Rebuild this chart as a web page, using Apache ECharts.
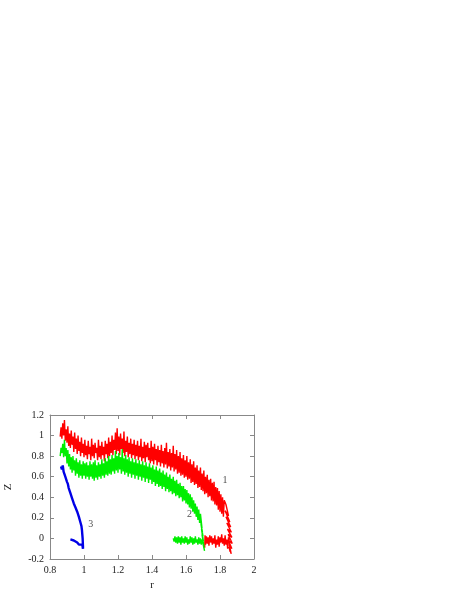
<!DOCTYPE html>
<html>
<head>
<meta charset="utf-8">
<script src="https://cdn.jsdelivr.net/npm/echarts@6/dist/echarts.min.js"></script>
<style>
  html, body { margin: 0; padding: 0; background: #fff; }
  #main { width: 458px; height: 592px; }
</style>
</head>
<body>
<div id="main"></div>
<script>
// curve 1 (red): [r, Z]
var curve1 = [
  [0.860, 0.99], [0.865, 1.08], [0.870, 0.97], [0.875, 1.12], [0.880, 1.00], [0.885, 1.15], [0.890, 0.95], [0.895, 1.06], [0.900, 0.93], [0.905, 1.09],
  [0.910, 0.90], [0.915, 1.02], [0.920, 0.88], [0.925, 1.05], [0.930, 0.91], [0.935, 0.99], [0.940, 0.84], [0.945, 1.03], [0.950, 0.87], [0.955, 0.97],
  [0.960, 0.82], [0.965, 1.00], [0.970, 0.85], [0.975, 0.94], [0.980, 0.80], [0.985, 0.98], [0.990, 0.83], [0.995, 0.92], [1.000, 0.79], [1.005, 0.96],
  [1.010, 0.81], [1.015, 0.90], [1.020, 0.77], [1.025, 0.95], [1.030, 0.82], [1.035, 0.89], [1.040, 0.76], [1.045, 0.97], [1.050, 0.80], [1.055, 0.91],
  [1.060, 0.78], [1.065, 0.93], [1.070, 0.83], [1.075, 0.88], [1.080, 0.76], [1.085, 0.96], [1.090, 0.79], [1.095, 0.90], [1.100, 0.77], [1.105, 0.94],
  [1.110, 0.81], [1.115, 0.89], [1.120, 0.75], [1.125, 0.95], [1.130, 0.82], [1.135, 0.92], [1.140, 0.78], [1.145, 0.98], [1.150, 0.80], [1.155, 0.94],
  [1.160, 0.83], [1.165, 1.00], [1.170, 0.81], [1.175, 0.96], [1.180, 0.86], [1.185, 1.03], [1.190, 0.82], [1.195, 1.07], [1.200, 0.85], [1.205, 0.99],
  [1.210, 0.81], [1.215, 1.02], [1.220, 0.87], [1.225, 0.97], [1.230, 0.83], [1.235, 1.04], [1.240, 0.80], [1.245, 0.95], [1.250, 0.84], [1.255, 0.99],
  [1.260, 0.79], [1.265, 0.93], [1.270, 0.82], [1.275, 0.97], [1.280, 0.78], [1.285, 0.92], [1.290, 0.81], [1.295, 0.96], [1.300, 0.77], [1.305, 0.91],
  [1.310, 0.80], [1.315, 0.95], [1.320, 0.76], [1.325, 0.90], [1.330, 0.79], [1.335, 0.97], [1.340, 0.75], [1.345, 0.89], [1.350, 0.78], [1.355, 0.94],
  [1.360, 0.74], [1.365, 0.91], [1.370, 0.79], [1.375, 0.93], [1.380, 0.76], [1.385, 0.88], [1.390, 0.73], [1.395, 0.95], [1.400, 0.75], [1.405, 0.89],
  [1.410, 0.72], [1.415, 0.92], [1.420, 0.76], [1.425, 0.87], [1.430, 0.71], [1.435, 0.90], [1.440, 0.74], [1.445, 0.86], [1.450, 0.70], [1.455, 0.91],
  [1.460, 0.73], [1.465, 0.85], [1.470, 0.69], [1.475, 0.88], [1.480, 0.72], [1.485, 0.93], [1.490, 0.68], [1.495, 0.84], [1.500, 0.70], [1.505, 0.87],
  [1.510, 0.66], [1.515, 0.83], [1.520, 0.69], [1.525, 0.90], [1.530, 0.65], [1.535, 0.82], [1.540, 0.67], [1.545, 0.86], [1.550, 0.63], [1.555, 0.80],
  [1.560, 0.64], [1.565, 0.84], [1.570, 0.61], [1.575, 0.78], [1.580, 0.62], [1.585, 0.81], [1.590, 0.59], [1.595, 0.76], [1.600, 0.60], [1.605, 0.80],
  [1.610, 0.57], [1.615, 0.74], [1.620, 0.58], [1.625, 0.77], [1.630, 0.54], [1.635, 0.72], [1.640, 0.55], [1.645, 0.75], [1.650, 0.52], [1.655, 0.69],
  [1.660, 0.53], [1.665, 0.71], [1.670, 0.49], [1.675, 0.66], [1.680, 0.50], [1.685, 0.69], [1.690, 0.47], [1.695, 0.63], [1.700, 0.46], [1.705, 0.66],
  [1.710, 0.43], [1.715, 0.60], [1.720, 0.44], [1.725, 0.62], [1.730, 0.40], [1.735, 0.57], [1.740, 0.41], [1.745, 0.58], [1.750, 0.37], [1.755, 0.54],
  [1.760, 0.36], [1.765, 0.55], [1.770, 0.33], [1.775, 0.50], [1.780, 0.32], [1.785, 0.49], [1.790, 0.28], [1.795, 0.46], [1.800, 0.26], [1.805, 0.43],
  [1.810, 0.24], [1.815, 0.40], [1.820, 0.21], [1.825, 0.37], [1.835, 0.33],
  [1.850, 0.22], [1.830, 0.27], [1.858, 0.16], [1.835, 0.21], [1.863, 0.11], [1.840, 0.15], [1.867, 0.06], [1.844, 0.09],
  [1.870, 0.01], [1.848, 0.04], [1.872, -0.05], [1.850, -0.02], [1.870, -0.10], [1.855, -0.06], [1.866, -0.15], [1.852, -0.08],
  [1.860, -0.13], [1.855, -0.03],
  [1.850, 0.01], [1.845, -0.10], [1.840, -0.01], [1.835, -0.06], [1.830, 0.03], [1.825, -0.07], [1.820, 0.00],
  [1.815, -0.05], [1.810, 0.04], [1.805, -0.04], [1.800, 0.01], [1.795, -0.08], [1.790, 0.02], [1.785, -0.06], [1.780, -0.01],
  [1.775, -0.09], [1.770, 0.03], [1.765, -0.05], [1.760, 0.00], [1.755, -0.06], [1.750, 0.02], [1.745, -0.04], [1.740, 0.03],
  [1.735, -0.07], [1.730, 0.01], [1.725, -0.05], [1.720, 0.02], [1.715, -0.06], [1.712, 0.03], [1.710, -0.09]
];

// curve 2 (green)
var curve2 = [
  [0.860, 0.80], [0.865, 0.88], [0.870, 0.83], [0.875, 0.92], [0.880, 0.79], [0.885, 0.96], [0.890, 0.80], [0.895, 0.88], [0.900, 0.73], [0.905, 0.86],
  [0.910, 0.70], [0.915, 0.82], [0.920, 0.67], [0.925, 0.79], [0.930, 0.64], [0.935, 0.80], [0.940, 0.66], [0.945, 0.76], [0.950, 0.61], [0.955, 0.78],
  [0.960, 0.63], [0.965, 0.74], [0.970, 0.59], [0.975, 0.76], [0.980, 0.61], [0.985, 0.72], [0.990, 0.58], [0.995, 0.75], [1.000, 0.61], [1.005, 0.73],
  [1.010, 0.58], [1.015, 0.74], [1.020, 0.60], [1.025, 0.71], [1.030, 0.57], [1.035, 0.75], [1.040, 0.60], [1.045, 0.72], [1.050, 0.58], [1.055, 0.74],
  [1.060, 0.56], [1.065, 0.76], [1.070, 0.59], [1.075, 0.71], [1.080, 0.57], [1.085, 0.74], [1.090, 0.60], [1.095, 0.72], [1.100, 0.58], [1.105, 0.77],
  [1.110, 0.61], [1.115, 0.73], [1.120, 0.59], [1.125, 0.78], [1.130, 0.62], [1.135, 0.75], [1.140, 0.61], [1.145, 0.80], [1.150, 0.63], [1.155, 0.77],
  [1.160, 0.62], [1.165, 0.81], [1.170, 0.65], [1.175, 0.78], [1.180, 0.63], [1.185, 0.85], [1.190, 0.66], [1.195, 0.80], [1.200, 0.64], [1.205, 0.83],
  [1.210, 0.67], [1.215, 0.79], [1.220, 0.63], [1.225, 0.87], [1.230, 0.65], [1.235, 0.78], [1.240, 0.62], [1.245, 0.81], [1.250, 0.64], [1.255, 0.77],
  [1.260, 0.60], [1.265, 0.79], [1.270, 0.63], [1.275, 0.75], [1.280, 0.59], [1.285, 0.78], [1.290, 0.62], [1.295, 0.74], [1.300, 0.58], [1.305, 0.77],
  [1.310, 0.61], [1.315, 0.73], [1.320, 0.57], [1.325, 0.76], [1.330, 0.60], [1.335, 0.72], [1.340, 0.56], [1.345, 0.75], [1.350, 0.59], [1.355, 0.71],
  [1.360, 0.55], [1.365, 0.74], [1.370, 0.58], [1.375, 0.70], [1.380, 0.54], [1.385, 0.73], [1.390, 0.57], [1.395, 0.69], [1.400, 0.53], [1.405, 0.71],
  [1.410, 0.55], [1.415, 0.67], [1.420, 0.51], [1.425, 0.70], [1.430, 0.53], [1.435, 0.66], [1.440, 0.50], [1.445, 0.68], [1.450, 0.51], [1.455, 0.64],
  [1.460, 0.48], [1.465, 0.66], [1.470, 0.50], [1.475, 0.62], [1.480, 0.46], [1.485, 0.64], [1.490, 0.48], [1.495, 0.60], [1.500, 0.45], [1.505, 0.62],
  [1.510, 0.46], [1.515, 0.58], [1.520, 0.43], [1.525, 0.60], [1.530, 0.44], [1.535, 0.56], [1.540, 0.41], [1.545, 0.57], [1.550, 0.42], [1.555, 0.53],
  [1.560, 0.39], [1.565, 0.54], [1.570, 0.40], [1.575, 0.51], [1.580, 0.36], [1.585, 0.51], [1.590, 0.37], [1.595, 0.48], [1.600, 0.34], [1.605, 0.47],
  [1.610, 0.33], [1.615, 0.44], [1.620, 0.30], [1.625, 0.43], [1.630, 0.29], [1.635, 0.40], [1.640, 0.26], [1.645, 0.37], [1.650, 0.24], [1.655, 0.34],
  [1.660, 0.21], [1.665, 0.31], [1.670, 0.18], [1.675, 0.28], [1.680, 0.15], [1.685, 0.24],
  [1.694, 0.10], [1.684, 0.19], [1.697, 0.06], [1.688, 0.14], [1.700, 0.02], [1.691, 0.09], [1.703, -0.03], [1.694, 0.04],
  [1.706, -0.08], [1.697, -0.01], [1.709, -0.12], [1.700, -0.05],
  [1.695, -0.01], [1.690, -0.06], [1.685, 0.00], [1.680, -0.05], [1.675, 0.01], [1.670, -0.06], [1.665, -0.01], [1.660, -0.04],
  [1.655, 0.02], [1.650, -0.05], [1.645, 0.00], [1.640, -0.06], [1.635, 0.01], [1.630, -0.04], [1.625, 0.02], [1.620, -0.05],
  [1.615, -0.01], [1.610, -0.06], [1.605, 0.01], [1.600, -0.04], [1.595, 0.02], [1.590, -0.05], [1.585, 0.00], [1.580, -0.04],
  [1.575, 0.02], [1.570, -0.06], [1.565, 0.01], [1.560, -0.04], [1.555, 0.02], [1.550, -0.05], [1.545, 0.01], [1.540, -0.04],
  [1.535, 0.02], [1.530, -0.03], [1.525, 0.00]
];

// curve 3 (blue)
var curve3 = [
  [0.865, 0.70], [0.870, 0.67], [0.875, 0.71], [0.880, 0.65], [0.885, 0.64], [0.890, 0.60],
  [0.895, 0.60], [0.900, 0.55], [0.905, 0.53], [0.910, 0.49], [0.915, 0.48], [0.920, 0.44],
  [0.925, 0.43], [0.930, 0.39], [0.935, 0.38], [0.940, 0.34], [0.945, 0.34], [0.950, 0.30],
  [0.955, 0.30], [0.960, 0.26], [0.965, 0.25], [0.970, 0.21], [0.975, 0.20], [0.980, 0.15],
  [0.985, 0.12], [0.988, 0.08], [0.990, 0.04], [0.992, 0.00], [0.993, -0.04], [0.994, -0.08],
  [0.994, -0.10], [0.990, -0.06], [0.980, -0.05], [0.970, -0.06], [0.960, -0.04], [0.950, -0.04],
  [0.940, -0.02], [0.930, -0.01], [0.920, -0.01]
];

// curve number labels: [r, Z, text]
var curveLabels = [[1.83, 0.56, '1'], [1.62, 0.23, '2'], [1.04, 0.14, '3']];

var serif = '"Liberation Serif", "DejaVu Serif", serif';
var frameColor = '#888';

var myChart = echarts.init(document.getElementById('main'));

function lineSeries(data, color, width) {
  return {
    type: 'line',
    data: data,
    showSymbol: false,
    symbol: 'none',
    animation: false,
    lineStyle: { color: color, width: width },
    z: 3
  };
}

function axisBase(pos, showLabel, name) {
  return {
    type: 'value',
    position: pos,
    name: name,
    nameLocation: 'middle',
    nameTextStyle: { fontFamily: serif, fontSize: 11, color: '#222' },
    axisLine: { show: true, onZero: false, lineStyle: { color: frameColor, width: 1 } },
    axisTick: { show: true, inside: true, length: 4, lineStyle: { color: frameColor } },
    axisLabel: { show: showLabel, fontFamily: serif, fontSize: 10, color: '#222', margin: 6 },
    splitLine: { show: false }
  };
}

var xBottom = axisBase('bottom', true, 'r');
xBottom.min = 0.8; xBottom.max = 2; xBottom.interval = 0.2; xBottom.nameGap = 21;
var xTop = axisBase('top', false, '');
xTop.min = 0.8; xTop.max = 2; xTop.interval = 0.2;
var yLeft = axisBase('left', true, 'Z');
yLeft.min = -0.2; yLeft.max = 1.2; yLeft.interval = 0.2; yLeft.nameGap = 36;
var yRight = axisBase('right', false, '');
yRight.min = -0.2; yRight.max = 1.2; yRight.interval = 0.2;

myChart.setOption({
  backgroundColor: '#fff',
  animation: false,
  grid: { left: 50, top: 415, width: 204, height: 148, containLabel: false },
  xAxis: [xBottom, xTop],
  yAxis: [yLeft, yRight],
  series: [
    lineSeries(curve1, '#ff0000', 1.4),
    lineSeries(curve2, '#00ee00', 1.4),
    lineSeries(curve3, '#0000e6', 2.4),
    {
      type: 'scatter',
      symbolSize: 0,
      animation: false,
      data: curveLabels.map(function (d) { return { value: [d[0], d[1]], name: d[2] }; }),
      label: {
        show: true,
        position: 'inside',
        formatter: '{b}',
        fontFamily: serif,
        fontSize: 10,
        color: '#222'
      },
      z: 5
    }
  ]
});
</script>
</body>
</html>
